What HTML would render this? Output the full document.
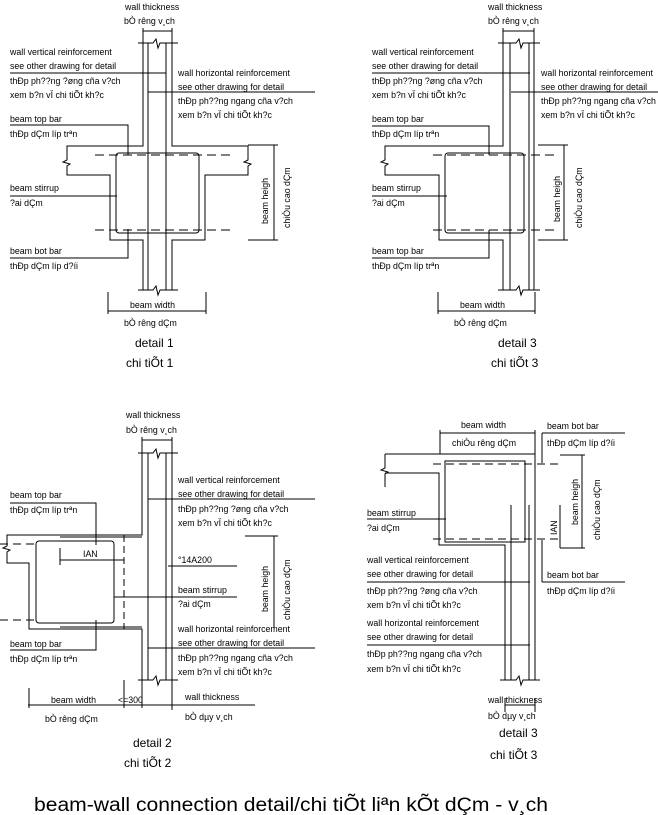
<!DOCTYPE html>
<html><head><meta charset="utf-8"><style>
html,body{margin:0;padding:0;background:#fff;}
svg{display:block;}
text{font-family:"Liberation Sans",sans-serif;font-size:8.8px;fill:#000;}
.d{font-size:12px;}
</style></head><body>
<svg width="658" height="815" viewBox="0 0 658 815" xmlns="http://www.w3.org/2000/svg">
<g stroke="#000" stroke-width="1" fill="none">
<!-- ===== DETAIL 1 ===== -->
<path d="M143 43V146H67V160L63 162L70 164L67 166V175H110V240H143V290"/>
<path d="M172 43V146H248V160L244 162L251 164L248 166V175H205V240H172V290"/>
<path d="M148 43V290M166 43V290"/>
<path d="M138 43H153L156 39L158 48L160 43H178M138 290H153L156 286L158 295L160 290H178"/>
<rect x="116" y="153" width="83" height="80" rx="3"/>
<path d="M95 155H230M95 230H230" stroke-dasharray="9,5"/>
<path d="M143 31H172M143 28V46M172 28V46"/>
<path d="M10 73H166M148 92H315M10 125H128V155M10 196H117M10 258H128V229"/>
<path d="M274 145V240M248 145H278M248 240H278"/>
<path d="M108 311H206M108 292V314M206 292V314"/>
<!-- ===== DETAIL 3 TOP ===== -->
<path d="M503 43V146H385V160L381 162L388 164L385 166V175H439V240H503V290"/>
<path d="M534 43V290M510 43V290M529 43V290"/>
<path d="M498 43H516L519 39L521 48L523 43H540M498 290H516L519 286L521 295L523 290H540"/>
<rect x="445" y="153" width="79" height="80" rx="3"/>
<path d="M433 155H555M433 230H555" stroke-dasharray="9,5"/>
<path d="M503 31H534M503 28V46M534 28V46"/>
<path d="M372 73H530M511 92H658M372 126H489V155M372 196H447M372 258H489V230"/>
<path d="M564 145V240M538 145H568M538 240H568"/>
<path d="M438 311H535M438 292V314M535 292V314"/>
<!-- ===== DETAIL 2 ===== -->
<path d="M142 453V535H7V546L3 548L10 550L7 552V563H29V629H142V680"/>
<path d="M60 537H142M60 627H142"/>
<path d="M172 453V680M148 453V680M166 453V680"/>
<path d="M138 453H153L156 449L158 458L160 453H178M138 680H153L156 676L158 685L160 680H178"/>
<rect x="36" y="541" width="78" height="82" rx="3"/>
<path d="M124 535V629" stroke-dasharray="7,4"/>
<path d="M0 544H36M0 620H36" stroke-dasharray="8,5"/>
<path d="M60 560H124M60 548V565"/>
<path d="M142 440H172M142 437V455M172 437V455"/>
<path d="M148 499H315M168 566H237M114 597H237M148 648H315"/>
<path d="M10 503H96V545M10 650H96V620"/>
<path d="M274 536V628M245 536H278"/>
<path d="M28 705H255M29 688V708M124 680V708M142 680V708M172 660V710"/>
<!-- ===== DETAIL 3 BOTTOM ===== -->
<path d="M440 433H535M440 430V454M535 430V680"/>
<path d="M385 454H535M385 454V468L381 470L388 472L385 474V487M385 473H439V545H505V680"/>
<rect x="445" y="461" width="80" height="81"/>
<path d="M433 464H558M433 539H558" stroke-dasharray="8,5"/>
<path d="M511 505V680M529 505V680"/>
<path d="M500 680H516L519 676L521 685L523 680H540"/>
<path d="M542 433H625M542 433V463M542 582H625M542 540V582"/>
<path d="M582 455V548M560 455H585M560 548H585M560 505V548"/>
<path d="M367 519H446M367 582H530M367 645H530"/>
<path d="M505 705H535M505 698V712M535 698V712"/>
</g>
<!-- ===== TEXT DETAIL 1 ===== -->
<text x="125" y="10">wall thickness</text>
<text x="124" y="24">bÒ rêng v¸ch</text>
<text x="10" y="55">wall vertical reinforcement</text>
<text x="10" y="69">see other drawing for detail</text>
<text x="10" y="84">thÐp ph??ng ?øng cña v?ch</text>
<text x="10" y="98">xem b?n vÏ chi tiÕt kh?c</text>
<text x="178" y="76">wall horizontal reinforcement</text>
<text x="178" y="90">see other drawing for detail</text>
<text x="178" y="104">thÐp ph??ng ngang cña v?ch</text>
<text x="178" y="118">xem b?n vÏ chi tiÕt kh?c</text>
<text x="10" y="122">beam top bar</text>
<text x="10" y="137">thÐp dÇm líp trªn</text>
<text x="10" y="191">beam stirrup</text>
<text x="10" y="206">?ai dÇm</text>
<text x="10" y="254">beam bot bar</text>
<text x="10" y="269">thÐp dÇm líp d?íi</text>
<text transform="translate(268,224) rotate(-90)">beam heigh</text>
<text transform="translate(290,228) rotate(-90)">chiÒu cao dÇm</text>
<text x="130" y="308">beam width</text>
<text x="124" y="326">bÒ rêng dÇm</text>
<text class="d" x="135" y="347">detail 1</text>
<text class="d" x="126" y="367">chi tiÕt 1</text>
<!-- ===== TEXT DETAIL 3 TOP ===== -->
<text x="488" y="10">wall thickness</text>
<text x="488" y="24">bÒ rêng v¸ch</text>
<text x="372" y="55">wall vertical reinforcement</text>
<text x="372" y="69">see other drawing for detail</text>
<text x="372" y="84">thÐp ph??ng ?øng cña v?ch</text>
<text x="372" y="98">xem b?n vÏ chi tiÕt kh?c</text>
<text x="541" y="76">wall horizontal reinforcement</text>
<text x="541" y="90">see other drawing for detail</text>
<text x="541" y="104">thÐp ph??ng ngang cña v?ch</text>
<text x="541" y="118">xem b?n vÏ chi tiÕt kh?c</text>
<text x="372" y="122">beam top bar</text>
<text x="372" y="137">thÐp dÇm líp trªn</text>
<text x="372" y="191">beam stirrup</text>
<text x="372" y="206">?ai dÇm</text>
<text x="372" y="254">beam top bar</text>
<text x="372" y="269">thÐp dÇm líp trªn</text>
<text transform="translate(560,222) rotate(-90)">beam heigh</text>
<text transform="translate(582,228) rotate(-90)">chiÒu cao dÇm</text>
<text x="460" y="308">beam width</text>
<text x="454" y="326">bÒ rêng dÇm</text>
<text class="d" x="498" y="347">detail 3</text>
<text class="d" x="491" y="367">chi tiÕt 3</text>
<!-- ===== TEXT DETAIL 2 ===== -->
<text x="126" y="418">wall thickness</text>
<text x="126" y="433">bÒ rêng v¸ch</text>
<text x="178" y="483">wall vertical reinforcement</text>
<text x="178" y="497">see other drawing for detail</text>
<text x="178" y="512">thÐp ph??ng ?øng cña v?ch</text>
<text x="178" y="526">xem b?n vÏ chi tiÕt kh?c</text>
<text x="178" y="563">°14A200</text>
<text x="178" y="593">beam stirrup</text>
<text x="178" y="607">?ai dÇm</text>
<text x="178" y="632">wall horizontal reinforcement</text>
<text x="178" y="646">see other drawing for detail</text>
<text x="178" y="661">thÐp ph??ng ngang cña v?ch</text>
<text x="178" y="675">xem b?n vÏ chi tiÕt kh?c</text>
<text x="10" y="498">beam top bar</text>
<text x="10" y="513">thÐp dÇm líp trªn</text>
<text x="10" y="647">beam top bar</text>
<text x="10" y="662">thÐp dÇm líp trªn</text>
<text x="83" y="557">IAN</text>
<text transform="translate(268,612) rotate(-90)">beam heigh</text>
<text transform="translate(290,620) rotate(-90)">chiÒu cao dÇm</text>
<text x="51" y="703">beam width</text>
<text x="118" y="703">&lt;=300</text>
<text x="185" y="700">wall thickness</text>
<text x="45" y="722">bÒ rêng dÇm</text>
<text x="185" y="720">bÒ dµy v¸ch</text>
<text class="d" x="133" y="747">detail 2</text>
<text class="d" x="124" y="767">chi tiÕt 2</text>
<!-- ===== TEXT DETAIL 3 BOTTOM ===== -->
<text x="461" y="428">beam width</text>
<text x="452" y="446">chiÒu rêng dÇm</text>
<text x="547" y="429">beam bot bar</text>
<text x="547" y="446">thÐp dÇm líp d?íi</text>
<text x="547" y="578">beam bot bar</text>
<text x="547" y="594">thÐp dÇm líp d?íi</text>
<text transform="translate(578,525) rotate(-90)">beam heigh</text>
<text transform="translate(600,540) rotate(-90)">chiÒu cao dÇm</text>
<text transform="translate(557,535) rotate(-90)">IAN</text>
<text x="367" y="516">beam stirrup</text>
<text x="367" y="531">?ai dÇm</text>
<text x="367" y="563">wall vertical reinforcement</text>
<text x="367" y="577">see other drawing for detail</text>
<text x="367" y="594">thÐp ph??ng ?øng cña v?ch</text>
<text x="367" y="608">xem b?n vÏ chi tiÕt kh?c</text>
<text x="367" y="626">wall horizontal reinforcement</text>
<text x="367" y="640">see other drawing for detail</text>
<text x="367" y="657">thÐp ph??ng ngang cña v?ch</text>
<text x="367" y="672">xem b?n vÏ chi tiÕt kh?c</text>
<text x="488" y="703">wall thickness</text>
<text x="488" y="719">bÒ dµy v¸ch</text>
<text class="d" x="499" y="737">detail 3</text>
<text class="d" x="490" y="759">chi tiÕt 3</text>
<!-- title -->
<text x="34" y="811" style="font-size:19px" textLength="514" lengthAdjust="spacingAndGlyphs">beam-wall connection detail/chi tiÕt liªn kÕt dÇm - v¸ch</text>
</svg>
</body></html>
